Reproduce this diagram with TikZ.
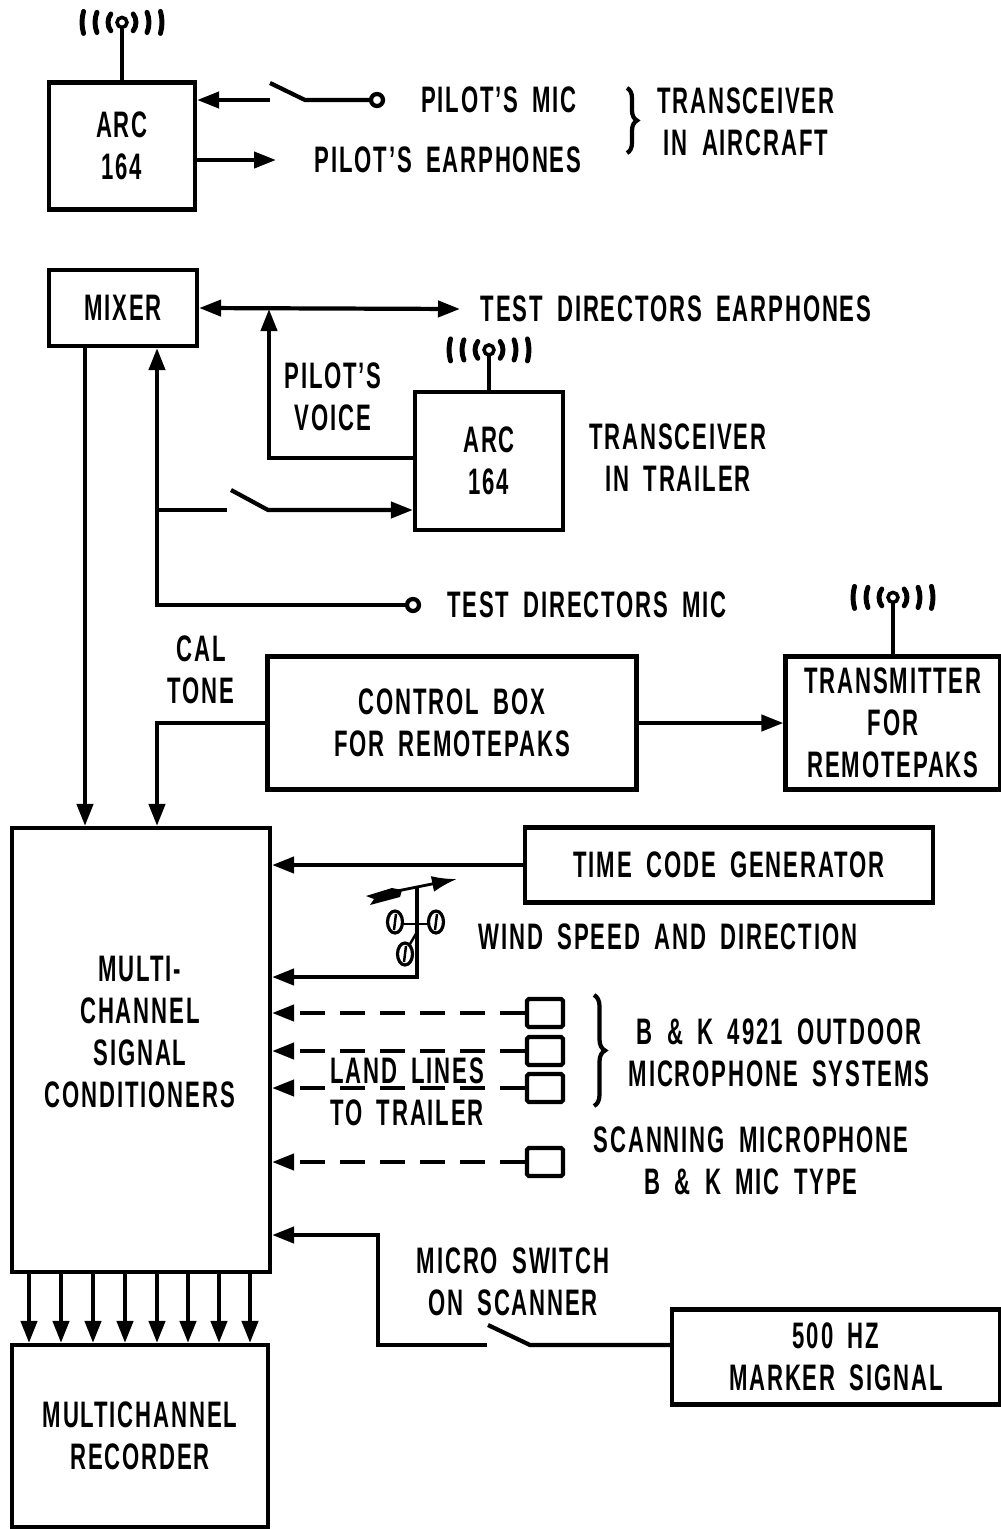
\documentclass[tikz,border=0pt]{standalone}
\usepackage{fontspec}
\setmainfont[FakeStretch=0.6, LetterSpace=5, WordSpace=1.8]{Liberation Sans}
\usetikzlibrary{arrows.meta,decorations.pathreplacing}

\tikzset{
  box/.style={draw, inner sep=0pt, align=center},
  lbl/.style={inner sep=0pt, align=center},
  contact/.style={draw, circle, fill=white, minimum size=0.24cm, inner sep=0pt},
  mic/.style={draw, rounded corners=1pt, minimum width=0.72cm, minimum height=0.56cm},
  land/.style={dash pattern=on 0.5cm off 0.3cm},
  pics/antenna/.style={code={
    \draw (0,0) -- (0,-#1+5);
    \draw[line width=2pt, fill=white] (0,-#1) circle[radius=0.1cm];
    \foreach \r/\a in {0.28/37,0.54/22,0.8/16}{
      \draw[line cap=round, line width=2.8pt] (0,-#1) ++(\a:\r cm) arc[start angle=\a, end angle=-\a, radius=\r cm];
      \draw[line cap=round, line width=2.8pt] (0,-#1) ++({180-\a}:\r cm) arc[start angle={180-\a}, end angle={180+\a}, radius=\r cm];
    }
  }},
}

\begin{document}
\begin{tikzpicture}[x=0.02cm, y=-0.02cm, >={Triangle[length=0.44cm,width=0.32cm]},
    line width=2.4pt, font=\fontsize{21}{24}\selectfont\bfseries]
  \useasboundingbox (0,0) rectangle (1001,1529);

  % transceiver in aircraft
  \node[box, minimum width=2.92cm, minimum height=2.54cm] (arcA) at (122,146) {ARC\\164};
  \pic at (arcA.north) {antenna=58};
  \node[contact] (pmic) at (377,100) {};
  \node[lbl] (pmictext) at (499,100) {PILOT'S MIC};
  \node[lbl] (pear) at (448,160) {PILOT'S EARPHONES};
  \node[lbl] (acft) at (746,122) {TRANSCEIVER\\IN AIRCRAFT};
  \coordinate (s1) at (270,100);
  \coordinate (pe) at (276,160);
  \draw[->] (s1) -- (s1 -| arcA.east);
  \draw (270,83) -- (305,100) -- (pmic.west);
  \draw[->] (arcA.east |- pe) -- (pe);
  \draw[decorate, decoration={brace, amplitude=0.2cm}] (627,88) -- (627,153);

  % trailer
  \node[box, minimum width=2.96cm, minimum height=1.52cm] (mixer) at (123,308) {MIXER};
  \coordinate (tde) at (460,309);
  \node[lbl] (tdetext) at (676,309) {TEST DIRECTORS EARPHONES};
  \draw[<->] (mixer.east) -- (tde);
  \node[box, minimum width=2.96cm, minimum height=2.76cm] (arcB) at (489,461) {ARC\\164};
  \pic at (arcB.north) {antenna=40};
  \node[lbl] (trl) at (678,458) {TRANSCEIVER\\IN TRAILER};
  \node[lbl] (pvoice) at (333,397) {PILOT'S\\VOICE};
  \coordinate (pv) at (269,309);
  \draw[->] (arcB.west |- 0,458) -| (pv);
  \node[contact] (tdmic) at (413,605) {};
  \node[lbl] (tdmictext) at (587,605) {TEST DIRECTORS MIC};
  \coordinate (j1) at (157,605);
  \coordinate (j2) at (157,510);
  \draw[->] (tdmic.west) -- (j1) -- (j1 |- mixer.south);
  \draw (j2) -- (227,510);
  \draw[->] (231,490) -- (268,510) -- (268,510 -| arcB.west);

  % remotepaks
  \node[box, minimum width=7.38cm, minimum height=2.66cm] (ctrl) at (452,723) {CONTROL BOX\\FOR REMOTEPAKS};
  \node[box, minimum width=4.3cm, minimum height=2.66cm] (xmtr) at (893,723) {TRANSMITTER\\FOR\\REMOTEPAKS};
  \pic at (xmtr.north) {antenna=57};
  \node[lbl] (cal) at (201,670) {CAL\\TONE};
  \draw[->] (ctrl.east) -- (xmtr.west);

  % signal conditioners
  \node[box, minimum width=5.16cm, minimum height=8.88cm] (msc) at (141,1050) {};
  \node[lbl] (msctext) at (140,1032) {MULTI-\\CHANNEL\\SIGNAL\\CONDITIONERS};
  \draw[->] (85,0 |- mixer.south) -- (85,0 |- msc.north);
  \draw[->] (ctrl.west) -| (157,0 |- msc.north);
  \node[box, minimum width=8.16cm, minimum height=1.5cm] (tcg) at (729,865) {TIME CODE GENERATOR};
  \draw[->] (tcg.west) -- (tcg.west -| msc.east);

  % wind vane
  \coordinate (vane) at (417,888);
  \draw[->] (vane) -- (417,977) -- (417,977 -| msc.east);
  \draw[line width=1.6pt, -{Latex[length=0.5cm, width=0.32cm]}] (392,892) -- (457,879);
  \fill (366,896) -- (392,888) -- (402,890) -- (400,897) -- (370,905) -- (374,899) -- cycle;
  \foreach \cx/\cy in {395/922,436/922,405/954} {
    \draw[line width=1.8pt] (\cx,\cy) ellipse[x radius=0.15cm, y radius=0.22cm];
    \draw[line width=1.4pt] (\cx+1,\cy-8) -- (\cx-1,\cy+8);
  }
  \draw[line width=1.4pt] (403,924) -- (428,924);
  \draw[line width=1.4pt] (410,944) -- (417,932);
  \node[lbl] (wind) at (668,937) {WIND SPEED AND DIRECTION};

  % microphones
  \node[mic] (mic1) at (545,1013) {};
  \node[mic] (mic2) at (545,1051) {};
  \node[mic] (mic3) at (545,1088) {};
  \node[mic] (mic4) at (545,1162) {};
  \foreach \m in {mic1,mic2,mic3,mic4}
    \draw[->, land] (\m.west) -- (\m.west -| msc.east);
  \draw[decorate, decoration={brace, amplitude=0.22cm}] (594,995) -- (594,1106);
  \node[lbl] (bk) at (779,1053) {B \& K 4921 OUTDOOR\\MICROPHONE SYSTEMS};
  \node[lbl] (landtext) at (407,1092) {LAND LINES\\TO TRAILER};
  \node[lbl] (scan) at (751,1161) {SCANNING MICROPHONE\\B \& K MIC TYPE};

  % marker signal
  \node[box, minimum width=6.56cm, minimum height=1.9cm] (marker) at (836,1357) {500 HZ\\MARKER SIGNAL};
  \node[lbl] (mstext) at (513,1282) {MICRO SWITCH\\ON SCANNER};
  \coordinate (s3) at (487,1345);
  \draw[->] (s3) -- (378,1345) -- (378,1235) -- (378,1235 -| msc.east);
  \draw (488,1325) -- (530,1345) -- (530,1345 -| marker.west);

  % recorder
  \node[box, minimum width=5.12cm, minimum height=3.64cm] (rec) at (140,1436) {MULTICHANNEL\\RECORDER};
  \foreach \x in {29,61,93,125,157,188,219,250}
    \draw[->] (\x,0 |- msc.south) -- (\x,0 |- rec.north);
\end{tikzpicture}
\end{document}
